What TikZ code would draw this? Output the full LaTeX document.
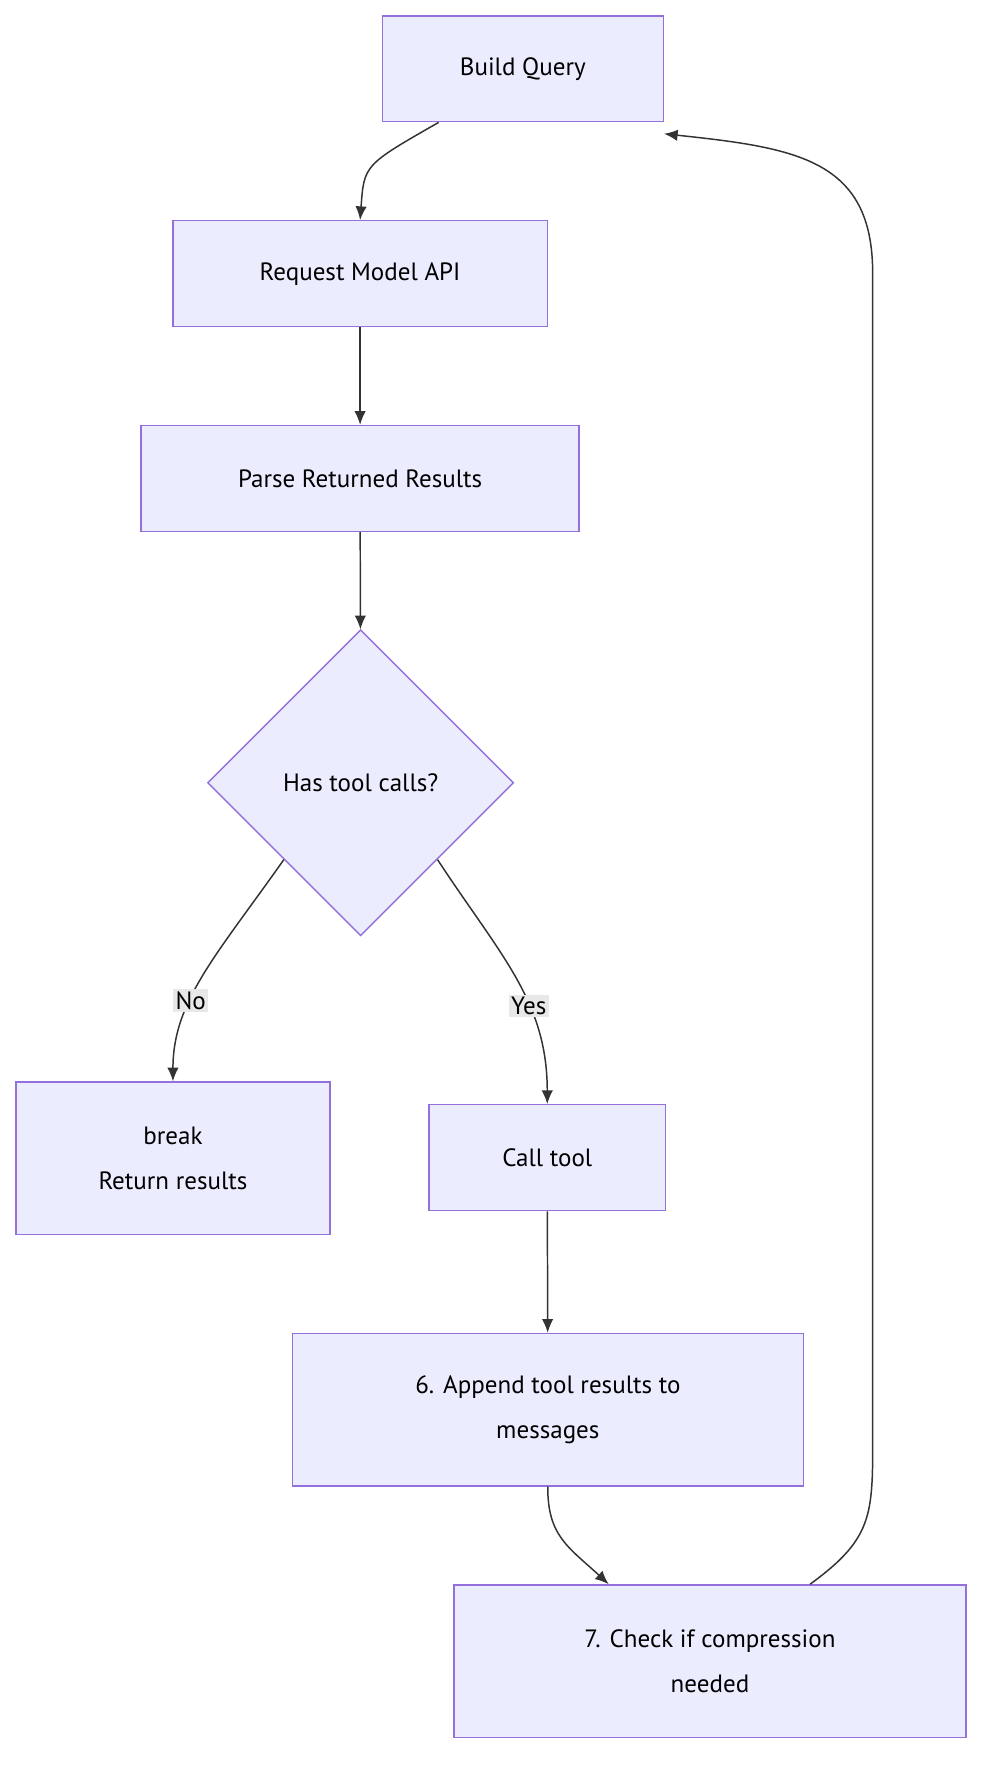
\documentclass[tikz,border=0pt]{standalone}
\usepackage{fontspec}
\setmainfont{PT Sans}
\usetikzlibrary{positioning,shapes.geometric,arrows.meta}
\definecolor{boxfill}{HTML}{ECECFF}
\definecolor{boxline}{HTML}{9370DB}
\definecolor{edgeline}{HTML}{333333}
\definecolor{labelbg}{HTML}{E8E8E8}
\tikzset{
  stage/.style={draw=boxline,fill=boxfill,line width=1.2pt,align=center,font=\fontsize{22}{40}\selectfont,inner sep=0pt},
  flow/.style={draw=edgeline,line width=1.3pt,-{Latex[length=12pt,width=10pt]}},
  tag/.style={fill=labelbg,font=\fontsize{22}{26}\selectfont,inner sep=2pt}
}
\begin{document}
\begin{tikzpicture}[x=1pt,y=-1pt]
    \useasboundingbox (0,0) rectangle (877,1568);
    \node[stage,minimum width=247pt,minimum height=93pt] (Q) at (459.5,60.5) {Build Query};
    \node[stage,minimum width=329pt,minimum height=93pt] (R) at (316.5,240.5) {Request Model API};
    \node[stage,minimum width=385pt,minimum height=93pt] (P) at (316.5,420.5) {Parse Returned Results};
    \node[stage,diamond,minimum width=269pt,minimum height=269pt] (D) at (317,688) {Has tool calls?};
    \node[stage,minimum width=276pt,minimum height=134pt] (B) at (152,1018) {break\\Return results};
    \node[stage,minimum width=208pt,minimum height=93pt] (C) at (481,1017.5) {Call tool};
    \node[stage,minimum width=449pt,minimum height=134pt] (A) at (481.5,1239) {6. Append tool results to\\messages};
    \node[stage,minimum width=450pt,minimum height=134pt] (K) at (624,1460) {7. Check if compression\\needed};
    % connectors
    \draw[flow] ([xshift=-74pt]Q.south) .. controls (320,145) .. (R.north);
    \draw[flow] (R) -- (P);
    \draw[flow] (P) -- (D);
    \draw[flow] (D.south west) .. controls (190,840) and (152,880) .. (B.north) node[tag,pos=0.62] {No};
    \draw[flow] (D.south east) .. controls (440,840) and (481,880) .. (C.north) node[tag,pos=0.62] {Yes};
    \draw[flow] (C) -- (A);
    \draw[flow] (A.south) .. controls (481,1350) and (500,1360) .. ([xshift=-89pt]K.north);
    \draw[flow] ([xshift=88pt]K.north) .. controls (770,1350) and (767,1330) .. (767,1250) -- (767,240) .. controls (767,140) and (700,130) .. ([yshift=-10pt]Q.south east);
\end{tikzpicture}
\end{document}
